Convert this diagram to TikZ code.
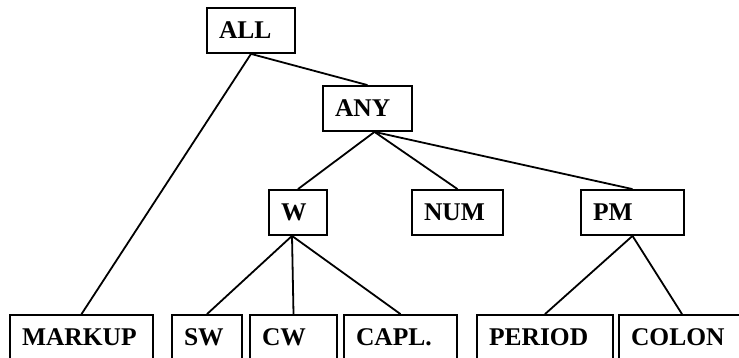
\documentclass[tikz,border=0pt]{standalone}
\usepackage{fontspec}
\setmainfont{Liberation Serif}
\usepackage{tikz}

\tikzset{
  box/.style={draw,line width=1.8pt,inner xsep=12pt,inner ysep=0pt,align=left,
    minimum height=45pt,text height=17pt,text depth=0pt,
    font=\bfseries\fontsize{25.5}{30}\selectfont},
  leaf/.style={box,minimum height=46pt,text depth=3pt}
}

\begin{document}
\begin{tikzpicture}[x=1pt,y=-1pt,line width=1.8pt]
\useasboundingbox (0,0) rectangle (739,358);
  \node[box,text width=64pt] at (251,30.5) (all) {ALL};
  \node[box,text width=65pt] at (367.5,108.5) (any) {ANY};
  \node[box,text width=34pt] at (298,212.5) (w) {W};
  \node[box,text width=67pt] at (457.5,212.5) (num) {NUM};
  \node[box,text width=79pt] at (632.5,212.5) (pm) {PM};

  \node[leaf,text width=119pt] at (81.5,338) (markup) {MARKUP};
  \node[leaf,text width=46pt] at (207,338) (sw) {SW};
  \node[leaf,text width=63pt] at (293.5,338) (cw) {CW};
  \node[leaf,text width=89pt] at (400.5,338) (capl) {CAPL.};
  \node[leaf,text width=112pt] at (545,338) (period) {PERIOD};
  \node[leaf,text width=102pt] at (682,338) (colon) {COLON};

  \draw (all.south) -- (markup.north);
  \draw (all.south) -- (any.north);
  \draw ([xshift=7pt]any.south) -- (w.north);
  \draw ([xshift=7pt]any.south) -- (num.north);
  \draw ([xshift=7pt]any.south) -- (pm.north);

  \draw ([xshift=-6pt]w.south) -- (sw.north);
  \draw ([xshift=-6pt]w.south) -- (cw.north);
  \draw ([xshift=-6pt]w.south) -- (capl.north);
  \draw (pm.south) -- (period.north);
  \draw (pm.south) -- (colon.north);

  \end{tikzpicture}
\end{document}
